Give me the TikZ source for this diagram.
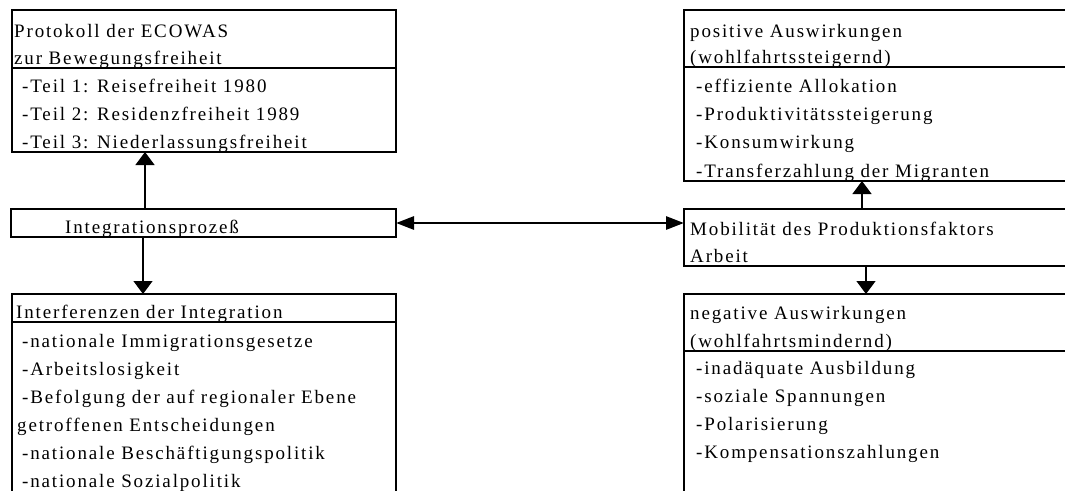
\documentclass[tikz,border=0pt]{standalone}
\usepackage{fontspec}
\setmainfont{Liberation Serif}[LetterSpace=9.7]
\usetikzlibrary{arrows.meta}

\begin{document}
\begin{tikzpicture}[x=1pt,y=-1pt,
  box/.style={draw,line width=2pt,anchor=north west,inner sep=0pt,outer sep=0pt},
  sepline/.style={line width=1.6pt},
  txt/.style={anchor=base west,inner sep=0pt,font=\fontsize{19}{22}\selectfont},
  arr/.style={line width=1.3pt,-{Triangle[length=13pt,width=19pt]}},
  bigarr/.style={line width=2.8pt,{Triangle[length=18pt,width=13pt]}-{Triangle[length=18pt,width=13pt]}}]

\clip (0,0) rectangle (1065,490);

% boxes
\node[box,minimum width=384pt,minimum height=142pt] (prot) at (12,10) {};
\node[box,minimum width=385pt,minimum height=28pt]  (integ) at (11,209) {};
\node[box,minimum width=384pt,minimum height=220pt] (interf) at (12,294) {};
\node[box,minimum width=400pt,minimum height=171pt] (pos) at (684,10) {};
\node[box,minimum width=400pt,minimum height=57pt]  (mob) at (684,209) {};
\node[box,minimum width=400pt,minimum height=220pt] (neg) at (684,294) {};

% header separators
\draw[sepline] (prot.west |- 0,68) -- (prot.east |- 0,68);
\draw[sepline] (interf.west |- 0,322) -- (interf.east |- 0,322);
\draw[sepline] (pos.west |- 0,67) -- (pos.east |- 0,67);
\draw[sepline] (neg.west |- 0,351) -- (neg.east |- 0,351);

% texts: Protokoll
\node[txt] (p1) at (14,37) {Protokoll der ECOWAS};
\node[txt] (p2) at (14,64) {zur Bewegungsfreiheit};
\node[txt] (p3) at (22,92) {-Teil 1: Reisefreiheit 1980};
\node[txt] (p4) at (22,120) {-Teil 2: Residenzfreiheit 1989};
\node[txt] (p5) at (22,148) {-Teil 3: Niederlassungsfreiheit};

% Integrationsprozess
\node[txt] (i1) at (65,233) {Integrationsprozeß};

% Interferenzen
\node[txt] (f1) at (16,318) {Interferenzen der Integration};
\node[txt] (f2) at (22,347) {-nationale Immigrationsgesetze};
\node[txt] (f3) at (22,375) {-Arbeitslosigkeit};
\node[txt] (f4) at (22,403) {-Befolgung der auf regionaler Ebene};
\node[txt] (f5) at (17,431) {getroffenen Entscheidungen};
\node[txt] (f6) at (22,459) {-nationale Beschäftigungspolitik};
\node[txt] (f7) at (22,487) {-nationale Sozialpolitik};

% positive Auswirkungen
\node[txt] (a1) at (690,37) {positive Auswirkungen};
\node[txt] (a2) at (690,63) {(wohlfahrtssteigernd)};
\node[txt] (a3) at (696,92) {-effiziente Allokation};
\node[txt] (a4) at (696,120) {-Produktivitätssteigerung};
\node[txt] (a5) at (696,148) {-Konsumwirkung};
\node[txt] (a6) at (696,177) {-Transferzahlung der Migranten};

% Mobilitaet
\node[txt] (m1) at (690,235) {Mobilität des Produktionsfaktors};
\node[txt] (m2) at (690,262) {Arbeit};

% negative Auswirkungen
\node[txt] (n1) at (690,319) {negative Auswirkungen};
\node[txt] (n2) at (690,347) {(wohlfahrtsmindernd)};
\node[txt] (n3) at (696,374) {-inadäquate Ausbildung};
\node[txt] (n4) at (696,402) {-soziale Spannungen};
\node[txt] (n5) at (696,430) {-Polarisierung};
\node[txt] (n6) at (696,458) {-Kompensationszahlungen};

% connector columns
\coordinate (cu) at (145,0);
\coordinate (cd) at (143,0);
\coordinate (ru) at (862,0);
\coordinate (rd) at (866,0);

% connectors
\draw[arr] (cu |- integ.north) -- (cu |- prot.south);
\draw[arr] (cd |- integ.south) -- (cd |- interf.north);
\draw[arr] (ru |- mob.north) -- (ru |- pos.south);
\draw[arr] (rd |- mob.south) -- (rd |- neg.north);
\draw[bigarr] (integ.east) -- (integ.east -| mob.west);

\end{tikzpicture}
\end{document}
